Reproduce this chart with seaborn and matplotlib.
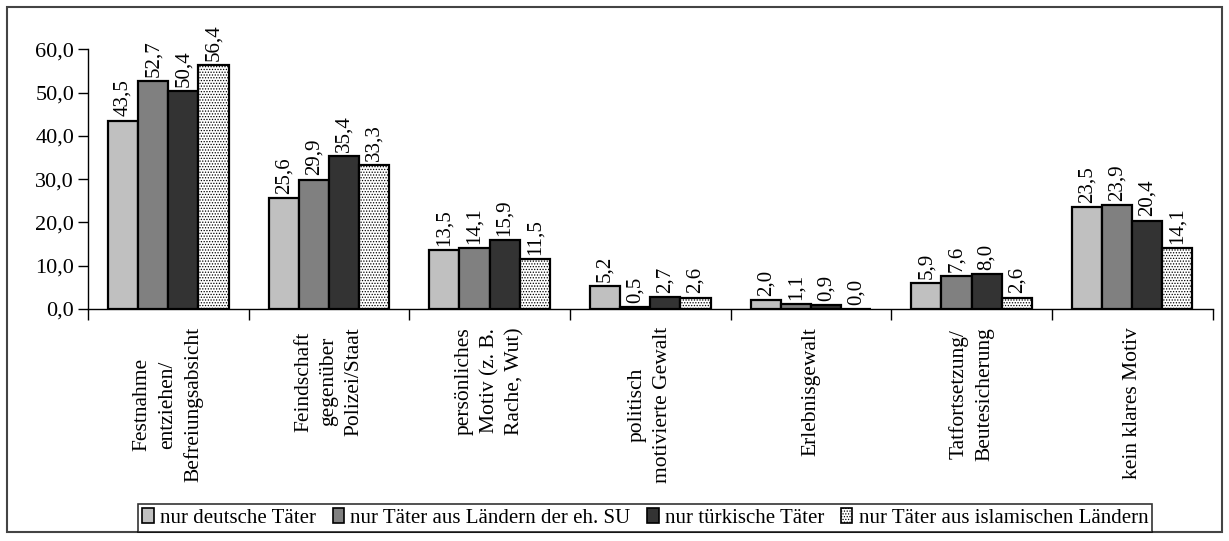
import pandas as pd
import matplotlib
matplotlib.use("Agg")
import matplotlib.pyplot as plt
import seaborn as sns
from matplotlib.patches import Rectangle, Patch
from matplotlib.ticker import FixedLocator, FuncFormatter

categories = [
    "Festnahme\nentziehen/\nBefreiungsabsicht",
    "Feindschaft\ngegenüber\nPolizei/Staat",
    "persönliches\nMotiv (z. B.\nRache, Wut)",
    "politisch\nmotivierte Gewalt",
    "Erlebnisgewalt",
    "Tatfortsetzung/\nBeutesicherung",
    "kein klares Motiv",
]
groups = [
    "nur deutsche Täter",
    "nur Täter aus Ländern der eh. SU",
    "nur türkische Täter",
    "nur Täter aus islamischen Ländern",
]
deutsch = [43.5, 25.6, 13.5, 5.2, 2.0, 5.9, 23.5]
su = [52.7, 29.9, 14.1, 0.5, 1.1, 7.6, 23.9]
tuerkisch = [50.4, 35.4, 15.9, 2.7, 0.9, 8.0, 20.4]
islamisch = [56.4, 33.3, 11.5, 2.6, 0.0, 2.6, 14.1]
colors = ["#c0c0c0", "#808080", "#333333", "#ffffff"]

rows = []
for g, vals in zip(groups, [deutsch, su, tuerkisch, islamisch]):
    for c, v in zip(categories, vals):
        rows.append({"Motiv": c, "Gruppe": g, "Wert": v})
df = pd.DataFrame(rows)

plt.rcParams["font.family"] = ["Liberation Serif", "DejaVu Serif"]
plt.rcParams["hatch.linewidth"] = 0.6
plt.rcParams["hatch.color"] = "#666666"

fig = plt.figure(figsize=(12.29, 5.41), dpi=100)
ax = fig.add_axes([0.0716, 0.429, 0.915, 0.48])

sns.barplot(data=df, x="Motiv", y="Wert", hue="Gruppe", order=categories,
            hue_order=groups, palette=colors, width=0.75, edgecolor="black",
            linewidth=1.6, saturation=1, ax=ax, legend=False)

for cont, vals in zip(ax.containers, [deutsch, su, tuerkisch, islamisch]):
    labels = [f"{v:.1f}".replace(".", ",") for v in vals]
    ax.bar_label(cont, labels=labels, rotation=90, padding=3, fontsize=15)
for p in ax.containers[3]:
    p.set_hatch("......")

ax.set_ylim(0, 60)
ax.set_xlim(-0.5, 6.5)
ax.set_yticks([0, 10, 20, 30, 40, 50, 60])
ax.yaxis.set_major_formatter(FuncFormatter(lambda v, _: f"{v:.1f}".replace(".", ",")))
ax.tick_params(axis="y", labelsize=16, length=7, width=1, direction="out", pad=3)
ax.tick_params(axis="x", which="major", length=0, labelsize=15.5, pad=13)
ax.xaxis.set_minor_locator(FixedLocator([i - 0.5 for i in range(8)]))
ax.tick_params(axis="x", which="minor", length=8, width=1, direction="out")
for lab in ax.get_xticklabels():
    lab.set_rotation(90)
    lab.set_multialignment("center")
    lab.set_linespacing(1.45)
    lab.set_va("top")
    lab.set_ha("center")
ax.set_xlabel("")
ax.set_ylabel("")
for s in ["top", "right"]:
    ax.spines[s].set_visible(False)
ax.spines["left"].set_linewidth(1)
ax.spines["bottom"].set_linewidth(1)

handles = [Patch(facecolor=c, edgecolor="black", linewidth=1.2,
                 hatch="......" if i == 3 else None) for i, c in enumerate(colors)]
leg = fig.legend(handles, groups, loc="center", bbox_to_anchor=(0.525, 0.043), ncol=4,
                 fontsize=15, frameon=True, fancybox=False, edgecolor="black",
                 handlelength=0.55, handleheight=0.75, handletextpad=0.3,
                 columnspacing=0.8, borderpad=0.2, borderaxespad=0)
leg.get_frame().set_linewidth(1.2)

fig.patches.append(Rectangle((0.006, 0.016), 0.988, 0.971, transform=fig.transFigure,
                             fill=False, edgecolor="#444444", linewidth=1.5))

fig.savefig("out.png", dpi=100)
